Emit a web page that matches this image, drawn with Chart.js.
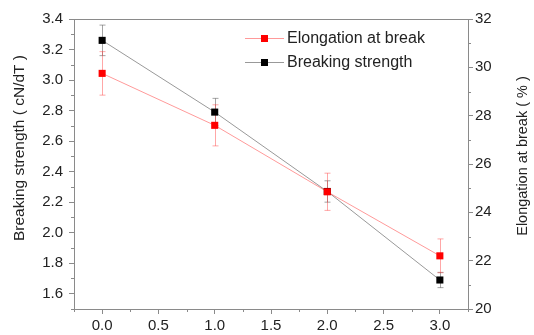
<!DOCTYPE html>
<html>
<head>
<meta charset="utf-8">
<script src="https://cdn.jsdelivr.net/npm/chart.js@4/dist/chart.umd.min.js"></script>
<style>
  html, body { margin: 0; padding: 0; background: #fff; }
  #wrap { width: 534px; height: 335px; }
</style>
</head>
<body>
<div id="wrap"><canvas id="c" width="534" height="335"></canvas></div>
<script>
// データ
const xValues = [0, 1, 2, 3];
const strength = [3.26, 2.79, 2.27, 1.69];      // 左軸 cN/dT
const strengthErr = [0.10, 0.09, 0.07, 0.05];
const elongation = [29.75, 27.6, 24.85, 22.2];  // 右軸 %
const elongationErr = [0.9, 0.85, 0.77, 0.7];

const xTicks = [0, 0.5, 1, 1.5, 2, 2.5, 3];
const leftTicks = [1.6, 1.8, 2.0, 2.2, 2.4, 2.6, 2.8, 3.0, 3.2, 3.4];
const rightTicks = [20, 22, 24, 26, 28, 30, 32];
const xMinor = [-0.25, 0.25, 0.75, 1.25, 1.75, 2.25, 2.75, 3.25];
const leftMinor = [1.5, 1.7, 1.9, 2.1, 2.3, 2.5, 2.7, 2.9, 3.1, 3.3];
const rightMinor = [21, 23, 25, 27, 29, 31];

const AXIS = '#8a8a8a';
const TEXT = '#222';
const FONT = 'Liberation Sans, Arial, sans-serif';

function pts(ys) {
    return xValues.map((x, i) => ({ x: x, y: ys[i] }));
}

// エラーバー
const errorBars = {
    id: 'errorBars',
    beforeDatasetsDraw(chart) {
        const ctx = chart.ctx;
        const xs = chart.scales.x;
        const sets = [
            { ys: strength, err: strengthErr, scale: chart.scales.y, color: 'rgba(90,90,90,0.55)' },
            { ys: elongation, err: elongationErr, scale: chart.scales.y1, color: 'rgba(255,60,60,0.45)' }
        ];
        ctx.save();
        ctx.lineWidth = 1;
        sets.forEach(s => {
            ctx.strokeStyle = s.color;
            s.ys.forEach((v, i) => {
                const px = Math.round(xs.getPixelForValue(xValues[i])) + 0.5;
                const top = s.scale.getPixelForValue(v + s.err[i]);
                const bot = s.scale.getPixelForValue(v - s.err[i]);
                ctx.beginPath();
                ctx.moveTo(px, top); ctx.lineTo(px, bot);
                ctx.moveTo(px - 3, top); ctx.lineTo(px + 3, top);
                ctx.moveTo(px - 3, bot); ctx.lineTo(px + 3, bot);
                ctx.stroke();
            });
        });
        ctx.restore();
    }
};

function vText(ctx, text, x, y, size) {
    ctx.save();
    ctx.fillStyle = TEXT;
    ctx.font = size + 'px ' + FONT;
    ctx.textAlign = 'center';
    ctx.textBaseline = 'middle';
    ctx.translate(x, y);
    ctx.rotate(-Math.PI / 2);
    ctx.fillText(text, 0, 0);
    ctx.restore();
}

// 副目盛り・上枠・軸タイトル・凡例
const extras = {
    id: 'extras',
    afterDraw(chart) {
        const ctx = chart.ctx;
        const a = chart.chartArea;
        ctx.save();
        ctx.strokeStyle = AXIS;
        ctx.lineWidth = 1;
        ctx.beginPath();
        ctx.moveTo(a.left, a.top + 0.5); ctx.lineTo(a.right, a.top + 0.5);
        xMinor.forEach(v => {
            const p = Math.round(chart.scales.x.getPixelForValue(v)) + 0.5;
            ctx.moveTo(p, a.bottom); ctx.lineTo(p, a.bottom + 3);
        });
        leftMinor.forEach(v => {
            const p = Math.round(chart.scales.y.getPixelForValue(v)) + 0.5;
            ctx.moveTo(a.left, p); ctx.lineTo(a.left - 3, p);
        });
        rightMinor.forEach(v => {
            const p = Math.round(chart.scales.y1.getPixelForValue(v)) + 0.5;
            ctx.moveTo(a.right, p); ctx.lineTo(a.right + 3, p);
        });
        ctx.stroke();
        ctx.restore();

        // 軸タイトル（下から上へ）
        vText(ctx, 'Breaking strength ( cN/dT )', 20, 148, 15.5);
        vText(ctx, 'Elongation at break ( % )', 523, 156, 14.5);

        // 凡例
        const items = [
            { text: 'Elongation at break', line: 'rgba(255,0,0,0.4)', mark: '#ff0000', y: 38 },
            { text: 'Breaking strength', line: '#999', mark: '#000', y: 62 }
        ];
        ctx.save();
        ctx.font = '16px ' + FONT;
        ctx.textBaseline = 'middle';
        ctx.textAlign = 'left';
        items.forEach(it => {
            ctx.strokeStyle = it.line;
            ctx.beginPath();
            ctx.moveTo(245, it.y + 0.5); ctx.lineTo(284, it.y + 0.5);
            ctx.stroke();
            ctx.fillStyle = it.mark;
            ctx.fillRect(261, it.y - 3, 7, 7);
            ctx.fillStyle = TEXT;
            ctx.fillText(it.text, 287, it.y + 1);
        });
        ctx.restore();
    }
};

function fixTicks(list) {
    return scale => { scale.ticks = list.map(v => ({ value: v })); };
}

new Chart(document.getElementById('c'), {
    type: 'line',
    data: {
        datasets: [
            {
                label: 'Breaking strength',
                data: pts(strength),
                yAxisID: 'y',
                order: 2,
                borderColor: '#999',
                borderWidth: 1,
                pointStyle: 'rect',
                pointRadius: 5,
                pointBackgroundColor: '#000',
                pointBorderColor: '#000',
                pointBorderWidth: 0
            },
            {
                label: 'Elongation at break',
                data: pts(elongation),
                yAxisID: 'y1',
                order: 1,
                borderColor: 'rgba(255,0,0,0.4)',
                borderWidth: 1,
                pointStyle: 'rect',
                pointRadius: 5,
                pointBackgroundColor: '#ff0000',
                pointBorderColor: '#ff0000',
                pointBorderWidth: 0
            }
        ]
    },
    options: {
        responsive: false,
        animation: false,
        layout: { padding: { top: 19, left: 0, right: 0, bottom: 0 } },
        plugins: { legend: { display: false }, tooltip: { enabled: false } },
        scales: {
            x: {
                type: 'linear',
                min: -0.25,
                max: 3.25,
                afterBuildTicks: fixTicks(xTicks),
                afterFit: s => { s.height = 26; },
                grid: { drawOnChartArea: false, tickLength: 5, color: AXIS },
                border: { color: AXIS },
                ticks: {
                    padding: 3,
                    color: TEXT,
                    font: { size: 15, family: FONT },
                    callback: v => v.toFixed(1)
                }
            },
            y: {
                position: 'left',
                min: 1.5,
                max: 3.4,
                afterBuildTicks: fixTicks(leftTicks),
                afterFit: s => { s.width = 74; },
                grid: { drawOnChartArea: false, tickLength: 5, color: AXIS },
                border: { color: AXIS },
                ticks: {
                    padding: 6,
                    color: TEXT,
                    font: { size: 15, family: FONT },
                    callback: v => v.toFixed(1)
                }
            },
            y1: {
                position: 'right',
                min: 20,
                max: 32,
                afterBuildTicks: fixTicks(rightTicks),
                afterFit: s => { s.width = 66; },
                grid: { drawOnChartArea: false, tickLength: 5, color: AXIS },
                border: { color: AXIS },
                ticks: {
                    padding: 2,
                    color: TEXT,
                    font: { size: 15, family: FONT }
                }
            }
        }
    },
    plugins: [errorBars, extras]
});
</script>
</body>
</html>
